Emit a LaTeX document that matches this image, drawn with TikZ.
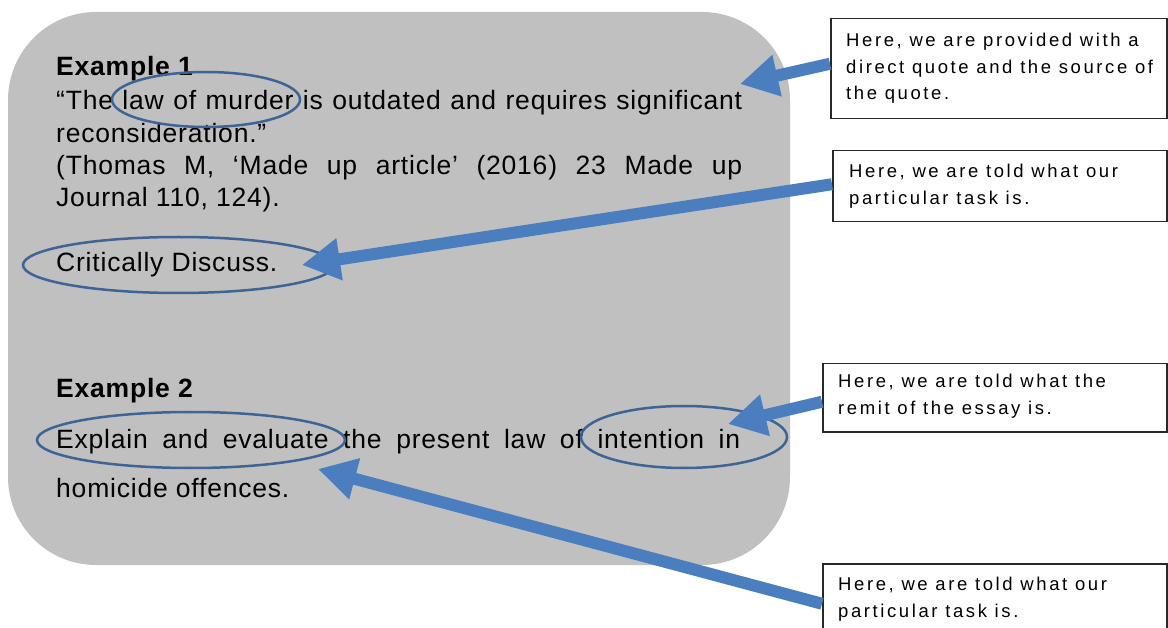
\documentclass[tikz,border=0pt]{standalone}
\usepackage{fontspec}
\setmainfont{Liberation Sans}
\newfontfamily\leftfont[LetterSpace=3]{Liberation Sans}
\newfontfamily\boxfont[LetterSpace=14]{Liberation Sans}
\usetikzlibrary{arrows.meta,shapes.geometric}
\definecolor{panel}{RGB}{192,192,192}
\definecolor{arrowblue}{RGB}{74,126,190}
\definecolor{ringblue}{RGB}{62,100,150}
\definecolor{boxline}{RGB}{40,40,40}
\tikzset{
  lefttext/.style={anchor=base west, inner sep=0pt, font=\leftfont\fontsize{26.5}{30}\selectfont},
  boxtext/.style={anchor=base west, inner sep=0pt, font=\boxfont\fontsize{18.5}{22}\selectfont},
  callout/.style={draw=boxline, line width=1.5pt, fill=white, anchor=north west, inner sep=0pt},
  ring/.style={draw=ringblue, line width=2.5pt, ellipse, inner sep=0pt},
  pointer/.style={draw=arrowblue, line width=12pt, -{Triangle[length=38pt,width=40pt]}, arrowblue}
}
\begin{document}
\begin{tikzpicture}[x=1pt,y=-1pt]
\useasboundingbox (0,0) rectangle (1168,628);
\fill[panel, rounded corners=88pt] (8,12) rectangle (790,565);

% left texts
\node[lefttext] (ex1) at (56,76) {\bfseries Example 1};
\node[lefttext] (q1) at (56,110) {\makebox[686pt][s]{“The law of murder is outdated and requires significant}};
\node[lefttext] (q2) at (56,143) {reconsideration.”};
\node[lefttext] (q3) at (56,175) {\makebox[686pt][s]{(Thomas M, ‘Made up article’ (2016) 23 Made up}};
\node[lefttext] (q4) at (56,207) {Journal 110, 124).};
\node[lefttext] (cd) at (56,272) {Critically Discuss.};
\node[lefttext] (ex2) at (56,398) {\bfseries Example 2};
\node[lefttext] (x1) at (56,448) {\makebox[684pt][s]{Explain and evaluate the present law of intention in}};
\node[lefttext] (x2) at (56,497) {homicide offences.};

% rings
\node[ring, minimum width=188pt, minimum height=55pt] (r1) at (206,99.5) {};
\node[ring, minimum width=311pt, minimum height=56pt] (r2) at (178.5,265) {};
\node[ring, minimum width=308pt, minimum height=56pt] (r3) at (191,440) {};
\node[ring, minimum width=206pt, minimum height=62pt] (r4) at (684,437) {};

% callout boxes
\node[callout, minimum width=336pt, minimum height=100pt] (b1) at (830,18) {};
\node[callout, minimum width=334pt, minimum height=71pt] (b2) at (832,150) {};
\node[callout, minimum width=344pt, minimum height=68pt] (b3) at (822,363) {};
\node[callout, minimum width=344pt, minimum height=80pt] (b4) at (822,563) {};

\node[boxtext] (b1a) at (846,47) {Here, we are provided with a};
\node[boxtext] (b1b) at (846,74) {direct quote and the source of};
\node[boxtext] (b1c) at (846,100) {the quote.};
\node[boxtext] (b2a) at (849,178) {Here, we are told what our};
\node[boxtext] (b2b) at (849,205) {particular task is.};
\node[boxtext] (b3a) at (838,388) {Here, we are told what the};
\node[boxtext] (b3b) at (838,414) {remit of the essay is.};
\node[boxtext] (b4a) at (838,590) {Here, we are told what our};
\node[boxtext] (b4b) at (838,617) {particular task is.};

% arrow tips
\coordinate (t1) at (740,84);
\coordinate (t2) at (302,265);
\coordinate (t3) at (728,424);
\coordinate (t4) at (318,469);

\draw[pointer] ([yshift=5pt]b1.west) -- (t1);
\draw[pointer] ([yshift=2pt]b2.west) -- (t2);
\draw[pointer] ([yshift=-4pt]b3.west) -- (t3);
\draw[pointer] (b4.west) -- (t4);
\end{tikzpicture}
\end{document}
